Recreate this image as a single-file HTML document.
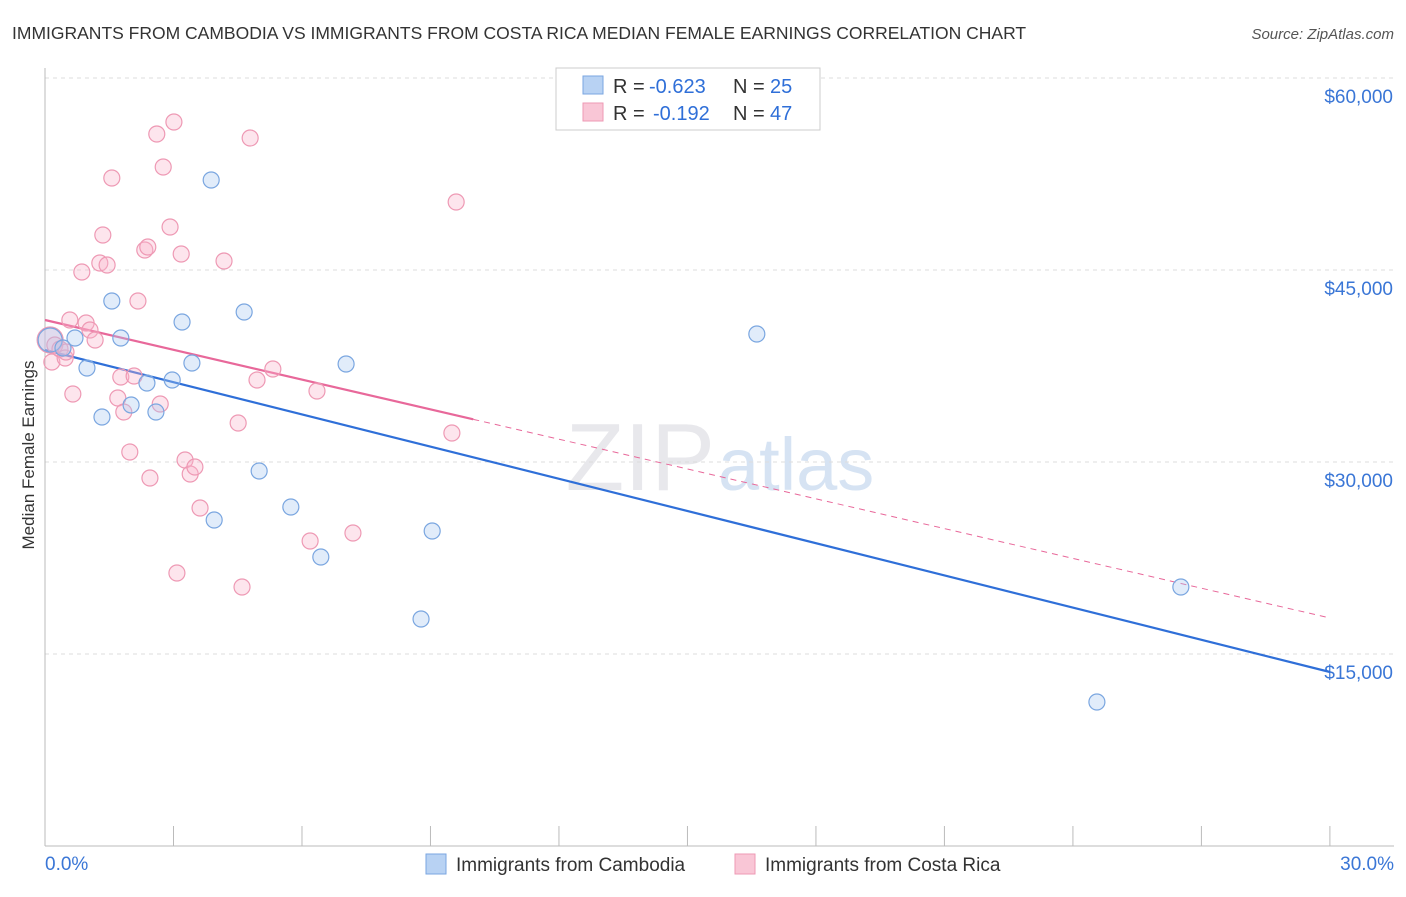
<!DOCTYPE html>
<html><head><meta charset="utf-8"><style>
body{margin:0;background:#fff;font-family:"Liberation Sans",sans-serif}
svg text{font-family:"Liberation Sans",sans-serif}
</style></head><body>
<svg id="c" width="1406" height="892">
<text x="12" y="39" font-size="17.5" fill="#333">IMMIGRANTS FROM CAMBODIA VS IMMIGRANTS FROM COSTA RICA MEDIAN FEMALE EARNINGS CORRELATION CHART</text>
<text x="1394" y="39" font-size="15" fill="#555" text-anchor="end" font-style="italic">Source: ZipAtlas.com</text>
<text x="715" y="490" font-size="96" fill="#e8e8ec" text-anchor="end" font-family="Liberation Serif">ZIP</text>
<text x="718" y="490" font-size="74" fill="#d6e3f3">atlas</text>
<g id="grid"></g><g id="axes"></g><g id="lines"></g><g id="pts"></g>
<text x="34" y="455" font-size="17" fill="#333" text-anchor="middle" transform="rotate(-90 34 455)">Median Female Earnings</text>
<g>
<rect x="556" y="68" width="264" height="62" fill="#fff" stroke="#ccc"/>
<rect x="583" y="76" width="20" height="18" fill="#b8d2f3" stroke="#7aa6e0"/>
<rect x="583" y="103" width="20" height="18" fill="#f9c6d6" stroke="#ee99b4"/>
<text y="93" font-size="20" fill="#333"><tspan x="613">R =</tspan><tspan x="649" fill="#2f6fd8">-0.623</tspan><tspan x="733">N =</tspan><tspan x="770" fill="#2f6fd8">25</tspan></text>
<text y="120" font-size="20" fill="#333"><tspan x="613">R =</tspan><tspan x="653" fill="#2f6fd8">-0.192</tspan><tspan x="733">N =</tspan><tspan x="770" fill="#2f6fd8">47</tspan></text>
</g>
<g>
<rect x="426" y="854" width="20" height="20" fill="#b8d2f3" stroke="#7aa6e0"/>
<text x="456" y="871" font-size="19" fill="#333">Immigrants from Cambodia</text>
<rect x="735" y="854" width="20" height="20" fill="#f9c6d6" stroke="#ee99b4"/>
<text x="765" y="871" font-size="19" fill="#333">Immigrants from Costa Rica</text>
</g>
</svg>
<script>
const yTicks=[15000,30000,45000,60000];
const yTickLabels=["$15,000","$30,000","$45,000","$60,000"];
const xTickLabels=["0.0%","30.0%"];
const blueX=[0.12,0.42,0.70,0.98,1.33,1.56,1.77,2.01,2.38,2.59,2.97,3.20,3.43,3.88,3.95,4.65,5.00,5.74,6.44,7.03,8.78,9.04,16.62,24.56,26.52];
const blueY=[39531,38906,39688,37344,33516,42578,39688,34453,36172,33906,36406,40938,37734,52031,25469,41719,29297,26484,22578,37656,17734,24609,40000,11250,20234];
const pinkX=[0.12,0.16,0.23,0.35,0.47,0.58,0.65,0.86,0.96,1.05,1.17,1.28,1.35,1.45,1.56,1.70,1.77,1.84,1.98,2.08,2.17,2.33,2.40,2.45,2.61,2.69,2.76,2.92,3.01,3.08,3.18,3.27,3.39,3.50,3.62,4.18,4.51,4.60,4.79,4.95,5.32,6.19,6.35,7.19,9.50,9.60,0.49];
const pinkY=[39531,37813,39141,38828,38125,41094,35313,44844,40859,40313,39531,45547,47734,45391,52188,35000,36641,33906,30781,36719,42578,46563,46797,28750,55625,34531,53047,48359,56563,21328,46250,30156,29063,29609,26406,45703,33047,20234,55313,36406,37266,23828,35547,24453,32266,50313,38594];
const blueTrend=[38750,13594];
const pinkTrend=[41094,17813];
const pinkSolidEnd=10;
const X=v=>45+v*42.83, Y=v=>846-v/78.125;
const NS="http://www.w3.org/2000/svg";
function mk(p,t,a){const e=document.createElementNS(NS,t);for(const k in a)e.setAttribute(k,a[k]);p.appendChild(e);return e;}
const g=document.getElementById('grid'),ax=document.getElementById('axes'),ln=document.getElementById('lines'),pt=document.getElementById('pts');
yTicks.forEach((v,i)=>{
 const l=mk(g,'line',{x1:45,x2:1394,y1:Y(v),y2:Y(v),stroke:'#ddd','stroke-dasharray':'4,4'});
 
 
 const t=mk(ax,'text',{x:1393,y:Y(v)+25,'font-size':19,fill:'#3a76d6','text-anchor':'end'});t.textContent=yTickLabels[i];
 
 
});
const topGrid=mk(g,'line',{x1:45,x2:1394,y1:78,y2:78,stroke:'#ddd','stroke-dasharray':'4,4'});


const ya=mk(ax,'line',{x1:45,x2:45,y1:68,y2:846,stroke:'#bbb'});


const xa=mk(ax,'line',{x1:45,x2:1394,y1:846,y2:846,stroke:'#bbb'});


for(let i=0;i<=10;i++){const tk=mk(ax,'line',{x1:X(i*3),x2:X(i*3),y1:826,y2:846,stroke:'#bbb'});
 
 }
[[0,'start',45],[30,'end',1394]].forEach((d,i)=>{const t=mk(ax,'text',{x:d[2],y:870,'font-size':19,fill:'#3a76d6','text-anchor':d[1]});t.textContent=xTickLabels[i];
 
 });
const bl=mk(ln,'line',{x1:X(0),y1:Y(blueTrend[0]),x2:X(30),y2:Y(blueTrend[1]),stroke:'#2f6fd8','stroke-width':2.2});


const pe=pinkTrend[0]+(pinkTrend[1]-pinkTrend[0])*pinkSolidEnd/30;
const ps=mk(ln,'line',{x1:X(0),y1:Y(pinkTrend[0]),x2:X(pinkSolidEnd),y2:Y(pe),stroke:'#e8689a','stroke-width':2.2});


const pd=mk(ln,'line',{x1:X(pinkSolidEnd),y1:Y(pe),x2:X(30),y2:Y(pinkTrend[1]),stroke:'#e8689a','stroke-width':1,'stroke-dasharray':'6,5'});


pinkX.forEach((x,i)=>{const c=mk(pt,'circle',{cx:X(x),cy:Y(pinkY[i]),r:i==0?13:8,fill:'rgba(248,180,202,0.35)',stroke:'#ee99b4','stroke-width':1.2});
 
 });
blueX.forEach((x,i)=>{const c=mk(pt,'circle',{cx:X(x),cy:Y(blueY[i]),r:i==0?12:8,fill:'rgba(170,200,240,0.35)',stroke:'#7aa6e0','stroke-width':1.2});
 
 });
</script>
</body></html>
